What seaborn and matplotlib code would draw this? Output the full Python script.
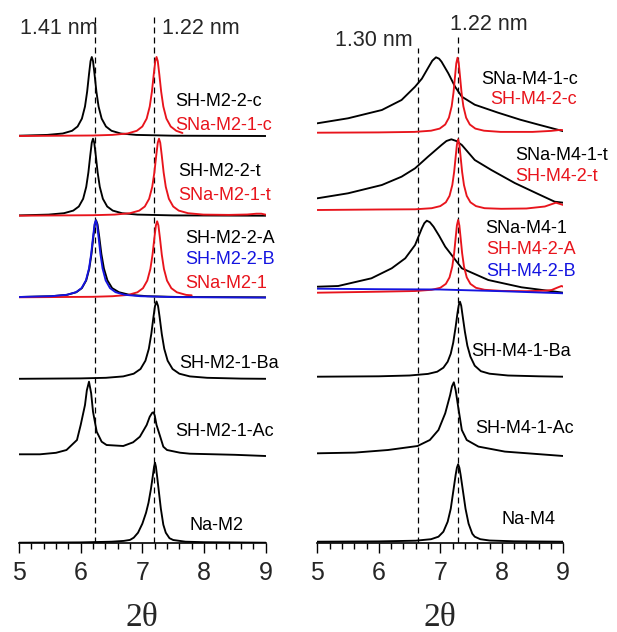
import matplotlib
matplotlib.use("Agg")
import matplotlib.pyplot as plt
from matplotlib.ticker import MultipleLocator
import seaborn as sns
import numpy as np

# ---------------- data: 2-theta positions and intensities (arb. units) ----------------
# Left panel (M2 series)
x_sh_m2_2_c = [5.0, 5.46, 5.71, 5.86, 5.95, 6.02, 6.07, 6.105, 6.135, 6.16, 6.18, 6.20, 6.225, 6.255, 6.29, 6.34, 6.41, 6.50, 6.65, 6.90, 7.5, 9.0]
i_sh_m2_2_c = [0.3, 1.1, 2.5, 5.2, 9.5, 17.4, 29.5, 44.4, 61.7, 74.9, 79, 74.9, 61.7, 44.4, 29.5, 17.4, 9.5, 5.2, 2.5, 1.1, 0.3, 0.0]
x_sna_m2_1_c = [5.0, 6.2, 6.51, 6.76, 6.91, 7.0, 7.07, 7.12, 7.155, 7.185, 7.21, 7.23, 7.25, 7.275, 7.305, 7.34, 7.39, 7.46, 7.55, 7.65]
i_sna_m2_1_c = [0.0, 0.5, 1.1, 2.5, 5.2, 9.5, 17.4, 29.5, 44.4, 61.7, 74.9, 79, 74.9, 61.7, 44.4, 29.5, 17.4, 9.5, 5.2, 3.0]

x_sh_m2_2_t = [5.0, 5.48, 5.73, 5.88, 5.97, 6.04, 6.09, 6.125, 6.155, 6.18, 6.20, 6.22, 6.245, 6.275, 6.31, 6.36, 6.43, 6.52, 6.67, 6.92, 7.5, 9.0]
i_sh_m2_2_t = [0.3, 1.1, 2.5, 5.1, 9.2, 16.9, 28.8, 43.3, 60.1, 73, 77, 73, 60.1, 43.3, 28.8, 16.9, 9.2, 5.1, 2.5, 1.1, 0.3, 0.0]
x_sna_m2_1_t = [5.0, 6.2, 6.55, 6.8, 6.95, 7.04, 7.11, 7.16, 7.195, 7.225, 7.25, 7.27, 7.29, 7.315, 7.345, 7.38, 7.43, 7.50, 7.59, 7.74, 7.99, 8.4, 8.7, 8.85, 8.93, 9.0]
i_sna_m2_1_t = [0.0, 0.5, 1.1, 2.5, 5.1, 9.2, 16.9, 28.8, 43.3, 60.1, 73, 77, 73, 60.1, 43.3, 28.8, 16.9, 9.2, 5.1, 2.5, 1.1, 0.8, 1.2, 2.0, 2.0, 1.0]

x_sh_m2_2_a = [5.0, 5.53, 5.78, 5.93, 6.02, 6.09, 6.14, 6.175, 6.205, 6.23, 6.25, 6.273, 6.302, 6.336, 6.377, 6.434, 6.51, 6.62, 6.79, 7.08, 7.6, 9.0]
i_sh_m2_2_a = [0.3, 1.1, 2.5, 5.1, 9.2, 16.9, 28.8, 43.3, 60.1, 73, 77, 73, 60.1, 43.3, 28.8, 16.9, 9.2, 5.1, 2.5, 1.1, 0.3, 0.0]
x_sh_m2_2_b = [5.0, 5.525, 5.775, 5.925, 6.015, 6.085, 6.135, 6.17, 6.20, 6.225, 6.245, 6.265, 6.29, 6.32, 6.355, 6.405, 6.475, 6.565, 6.715, 6.965, 7.5, 9.0]
i_sh_m2_2_b = [0.3, 1.1, 2.5, 5.1, 9.2, 16.9, 28.8, 43.3, 60.1, 73, 77, 73, 60.1, 43.3, 28.8, 16.9, 9.2, 5.1, 2.5, 1.1, 0.2, -0.3]
x_sna_m2_1 = [5.0, 6.2, 6.52, 6.77, 6.92, 7.01, 7.08, 7.13, 7.165, 7.195, 7.22, 7.24, 7.26, 7.285, 7.315, 7.35, 7.40, 7.47, 7.56, 7.71, 7.8]
i_sna_m2_1 = [0.0, 0.5, 1.1, 2.4, 5.0, 9.1, 16.7, 28.4, 42.7, 59.4, 72, 76, 72, 59.4, 42.7, 28.4, 16.7, 9.1, 5.0, 2.4, 2.0]

x_sh_m2_1_ba = [5.0, 6.0, 6.41, 6.69, 6.86, 6.97, 7.05, 7.105, 7.145, 7.18, 7.205, 7.23, 7.255, 7.28, 7.315, 7.355, 7.41, 7.49, 7.60, 7.77, 8.05, 8.6, 9.0]
i_sh_m2_1_ba = [0.2, 0.6, 1.2, 2.6, 5.3, 10, 18.3, 30.2, 45, 62, 72.9, 77.5, 72.9, 62, 45, 30.2, 18.3, 10, 5.3, 2.6, 1.2, 0.4, 0.2]

x_sh_m2_1_ac = [5.0, 5.34, 5.6, 5.77, 5.94, 6.0, 6.07, 6.10, 6.135, 6.17, 6.20, 6.26, 6.34, 6.42, 6.69, 6.85, 6.96, 7.07, 7.12, 7.16, 7.18, 7.20, 7.23, 7.29, 7.34, 7.40, 7.61, 7.77, 8.5, 9.0]
i_sh_m2_1_ac = [0.0, 0.0, 1.5, 4.3, 14.3, 29.3, 49.3, 64, 72.6, 61, 42.6, 22.6, 12.6, 9.3, 8.3, 12, 17.6, 29.3, 37.6, 41.5, 42, 39, 29.3, 17.6, 7.6, 4.3, 1.6, 0.6, -0.5, -1.7]

x_na_m2 = [5.0, 6.0, 6.5, 6.7, 6.8, 6.86, 6.93, 7.0, 7.06, 7.10, 7.14, 7.17, 7.19, 7.205, 7.22, 7.24, 7.27, 7.30, 7.34, 7.38, 7.44, 7.5, 7.7, 8.0, 9.0]
i_na_m2 = [0.0, 0.3, 1.0, 1.8, 2.8, 5.0, 10, 19, 30, 40, 54, 67, 76, 80, 76, 66, 50, 34, 18, 10, 4.5, 2.7, 1.0, 0.5, 0.0]

# Right panel (M4 series)
x_sna_m4_1_c = [5.0, 5.5, 6.05, 6.37, 6.59, 6.70, 6.81, 6.87, 6.93, 6.98, 7.02, 7.13, 7.24, 7.35, 7.56, 7.94, 8.3, 8.6, 9.0]
i_sna_m4_1_c = [9.4, 14.4, 22.7, 32.7, 46, 54, 65.7, 72, 75.4, 74, 71, 59.4, 46, 36, 28, 20, 13, 8, 1.5]
x_sh_m4_2_c = [5.0, 6.0, 6.58, 6.85, 6.99, 7.08, 7.14, 7.185, 7.215, 7.24, 7.26, 7.28, 7.30, 7.32, 7.345, 7.375, 7.42, 7.48, 7.57, 7.71, 7.98, 8.5, 8.8, 8.95, 9.0]
i_sh_m4_2_c = [0.0, 0.3, 0.8, 2.0, 4.1, 8.2, 15, 26.4, 40.3, 56.6, 69.4, 75, 69.4, 56.6, 40.3, 26.4, 15, 8.2, 4.1, 2.0, 0.8, 0.8, 1.8, 2.8, 2.5]

x_sna_m4_1_t = [5.0, 5.5, 6.05, 6.37, 6.59, 6.80, 7.02, 7.10, 7.18, 7.26, 7.35, 7.56, 7.83, 8.21, 8.59, 8.86, 9.0]
i_sna_m4_1_t = [11.7, 16.7, 25, 33.3, 41.7, 53.3, 65, 69, 70.7, 69, 65, 50, 40, 27, 16, 8.3, 7.3]
x_sh_m4_2_t = [5.0, 6.0, 6.59, 6.86, 7.0, 7.09, 7.15, 7.195, 7.225, 7.25, 7.27, 7.29, 7.31, 7.33, 7.355, 7.385, 7.43, 7.49, 7.58, 7.72, 7.99, 8.4, 8.7, 8.88, 9.0]
i_sh_m4_2_t = [0.0, 0.5, 0.7, 1.8, 3.9, 7.7, 14.1, 24.9, 38, 53.3, 65.4, 70.7, 65.4, 53.3, 38, 24.9, 14.1, 7.7, 3.9, 1.8, 1.2, 1.5, 3.5, 7.3, 5.0]

x_sna_m4_1 = [5.0, 5.34, 5.88, 6.21, 6.43, 6.59, 6.70, 6.74, 6.78, 6.83, 6.89, 6.98, 7.08, 7.35, 7.78, 8.32, 9.0]
i_sna_m4_1 = [5.0, 5.7, 13.4, 23.4, 33.4, 46.7, 63.4, 68.5, 71, 69.5, 65, 56, 45, 23.4, 11.7, 4.4, -1.0]
x_sh_m4_2_a = [5.0, 6.0, 6.59, 6.86, 7.0, 7.09, 7.15, 7.195, 7.225, 7.25, 7.27, 7.29, 7.31, 7.33, 7.355, 7.385, 7.43, 7.49, 7.58, 7.72, 7.99, 8.4, 8.7, 8.81, 8.9, 8.97, 9.0]
i_sh_m4_2_a = [-1.0, 0.0, 0.7, 1.9, 3.9, 7.8, 14.3, 25.2, 38.5, 54.1, 66.3, 71.7, 66.3, 54.1, 38.5, 25.2, 14.3, 7.8, 3.9, 1.9, 0.8, 0.5, 1.0, 1.7, 4.0, 5.7, 5.0]
x_sh_m4_2_b = [5.0, 6.0, 7.0, 8.0, 9.0]
i_sh_m4_2_b = [3.0, 2.5, 2.2, 0.5, -1.6]

x_sh_m4_1_ba = [5.0, 6.0, 6.5, 6.8, 6.95, 7.05, 7.12, 7.17, 7.21, 7.25, 7.28, 7.30, 7.32, 7.34, 7.365, 7.40, 7.44, 7.49, 7.56, 7.66, 7.8, 8.1, 8.6, 9.0]
i_sh_m4_1_ba = [0.0, 0.4, 1.2, 2.8, 5.0, 9.0, 15, 23, 34, 50, 64, 71.5, 75, 71, 60, 45, 31, 20, 11, 5.5, 3.0, 1.2, 0.4, 0.0]

x_sh_m4_1_ac = [5.0, 5.61, 6.15, 6.63, 6.83, 6.97, 7.08, 7.16, 7.19, 7.22, 7.25, 7.29, 7.35, 7.43, 7.62, 8.05, 9.0]
i_sh_m4_1_ac = [0.0, 0.7, 3.3, 7.3, 13.3, 23.3, 40, 58.3, 67, 71, 63, 46.7, 23.3, 13.3, 6.7, 1.7, -2.7]

x_na_m4 = [5.0, 6.0, 6.6, 6.85, 6.97, 7.05, 7.12, 7.17, 7.21, 7.25, 7.27, 7.29, 7.31, 7.33, 7.37, 7.41, 7.46, 7.52, 7.56, 7.65, 7.8, 8.2, 9.0]
i_na_m4 = [0.0, 0.3, 1.0, 2.5, 5.0, 10, 20, 33, 50, 67, 74, 77.4, 74, 67, 50, 33, 18, 8.0, 5.0, 2.5, 1.2, 0.4, 0.0]

# d-spacing reference lines (2-theta) and their labels
left_refs = [6.24, 7.19]
left_ref_labels = ["1.41 nm", "1.22 nm"]
right_refs = [6.63, 7.29]
right_ref_labels = ["1.30 nm", "1.22 nm"]

# ---------------- styling ----------------
sns.set_style("white")
plt.rcParams["font.family"] = ["Liberation Sans", "DejaVu Sans"]

BLACK, RED, BLUE = "#000000", "#e8141c", "#1414e0"
LW = 1.35

fig = plt.figure(figsize=(6.17, 6.32), dpi=100)
W, H = 617.0, 632.0
ax_l = fig.add_axes([19 / W, 89.3 / H, 246.7 / W, 542.7 / H])
ax_r = fig.add_axes([317.3 / W, 89.3 / H, 246.0 / W, 542.7 / H])


def trace(ax, x, inten, shift, color):
    y = np.asarray(inten) + shift
    sns.lineplot(x=x, y=y, ax=ax, color=color, lw=LW, sort=False,
                 estimator=None, legend=False)


# stacked patterns (vertical shifts)
trace(ax_l, x_sh_m2_2_c, i_sh_m2_2_c, 406.7, BLACK)
trace(ax_l, x_sna_m2_1_c, i_sna_m2_1_c, 406.7, RED)
trace(ax_l, x_sh_m2_2_t, i_sh_m2_2_t, 327.0, BLACK)
trace(ax_l, x_sna_m2_1_t, i_sna_m2_1_t, 327.0, RED)
trace(ax_l, x_sh_m2_2_a, i_sh_m2_2_a, 245.4, BLACK)
trace(ax_l, x_sna_m2_1, i_sna_m2_1, 245.4, RED)
trace(ax_l, x_sh_m2_2_b, i_sh_m2_2_b, 245.4, BLUE)
trace(ax_l, x_sh_m2_1_ba, i_sh_m2_1_ba, 163.7, BLACK)
trace(ax_l, x_sh_m2_1_ac, i_sh_m2_1_ac, 88.4, BLACK)
trace(ax_l, x_na_m2, i_na_m2, 0.0, BLACK)

trace(ax_r, x_sna_m4_1_c, i_sna_m4_1_c, 410.0, BLACK)
trace(ax_r, x_sh_m4_2_c, i_sh_m4_2_c, 410.0, RED)
trace(ax_r, x_sna_m4_1_t, i_sna_m4_1_t, 332.7, BLACK)
trace(ax_r, x_sh_m4_2_t, i_sh_m4_2_t, 332.7, RED)
trace(ax_r, x_sna_m4_1, i_sna_m4_1, 251.0, BLACK)
trace(ax_r, x_sh_m4_2_a, i_sh_m4_2_a, 251.0, RED)
trace(ax_r, x_sh_m4_2_b, i_sh_m4_2_b, 251.0, BLUE)
trace(ax_r, x_sh_m4_1_ba, i_sh_m4_1_ba, 166.0, BLACK)
trace(ax_r, x_sh_m4_1_ac, i_sh_m4_1_ac, 89.4, BLACK)
trace(ax_r, x_na_m4, i_na_m4, 1.0, BLACK)

# dashed reference lines
dash = (0, (4.8, 3.2))
for xv, top in zip(left_refs, [527.7, 527.7]):
    ax_l.vlines(xv, 0, top, colors="black", linestyles=[dash], lw=0.9, zorder=0)
for xv, top in zip(right_refs, [494.7, 509.7]):
    ax_r.vlines(xv, 0, top, colors="black", linestyles=[dash], lw=0.9, zorder=0)

NM_FS = 15.5
ax_l.text(5.02, 514.7, left_ref_labels[0], fontsize=NM_FS, va="center", ha="left")
ax_l.text(7.32, 514.7, left_ref_labels[1], fontsize=NM_FS, va="center", ha="left")
ax_r.text(5.29, 502.7, right_ref_labels[0], fontsize=NM_FS, va="center", ha="left")
ax_r.text(7.16, 517.7, right_ref_labels[1], fontsize=NM_FS, va="center", ha="left")

# sample labels
FS = 13
left_labels = [
    (7.53, 441.0, "SH-M2-2-c", BLACK),
    (7.53, 417.7, "SNa-M2-1-c", RED),
    (7.58, 371.0, "SH-M2-2-t", BLACK),
    (7.58, 347.7, "SNa-M2-1-t", RED),
    (7.69, 304.4, "SH-M2-2-A", BLACK),
    (7.69, 282.7, "SH-M2-2-B", BLUE),
    (7.69, 259.4, "SNa-M2-1", RED),
    (7.59, 179.4, "SH-M2-1-Ba", BLACK),
    (7.54, 111.0, "SH-M2-1-Ac", BLACK),
    (7.76, 17.7, "Na-M2", BLACK),
]
right_labels = [
    (7.67, 462.7, "SNa-M4-1-c", BLACK),
    (7.81, 442.7, "SH-M4-2-c", RED),
    (8.21, 387.7, "SNa-M4-1-t", BLACK),
    (8.21, 366.0, "SH-M4-2-t", RED),
    (7.73, 314.4, "SNa-M4-1", BLACK),
    (7.75, 292.7, "SH-M4-2-A", RED),
    (7.75, 271.0, "SH-M4-2-B", BLUE),
    (7.51, 191.0, "SH-M4-1-Ba", BLACK),
    (7.56, 114.4, "SH-M4-1-Ac", BLACK),
    (7.99, 22.7, "Na-M4", BLACK),
]
for ax, labels in ((ax_l, left_labels), (ax_r, right_labels)):
    for x, y, s, c in labels:
        ax.text(x, y, s, color=c, fontsize=FS, va="center", ha="left")

# axes
for ax in (ax_l, ax_r):
    ax.set_xlim(5, 9)
    ax.set_ylim(0, 542.7)
    ax.set_facecolor("none")
    for side in ("left", "right", "top"):
        ax.spines[side].set_visible(False)
    ax.spines["bottom"].set_linewidth(1.2)
    ax.spines["bottom"].set_color("black")
    ax.set_yticks([])
    ax.xaxis.set_major_locator(MultipleLocator(1))
    ax.xaxis.set_minor_locator(MultipleLocator(0.2))
    ax.tick_params(axis="x", which="major", direction="out", length=7.5,
                   width=1.0, labelsize=18, pad=6, bottom=True, color="black")
    ax.tick_params(axis="x", which="minor", direction="out", length=4.5,
                   width=1.0, bottom=True, color="black")
    ax.set_xlabel("2θ", fontsize=24, family=["Liberation Serif", "DejaVu Serif"],
                  labelpad=12)
    ax.set_ylabel("")

fig.savefig("out.png", dpi=100)
